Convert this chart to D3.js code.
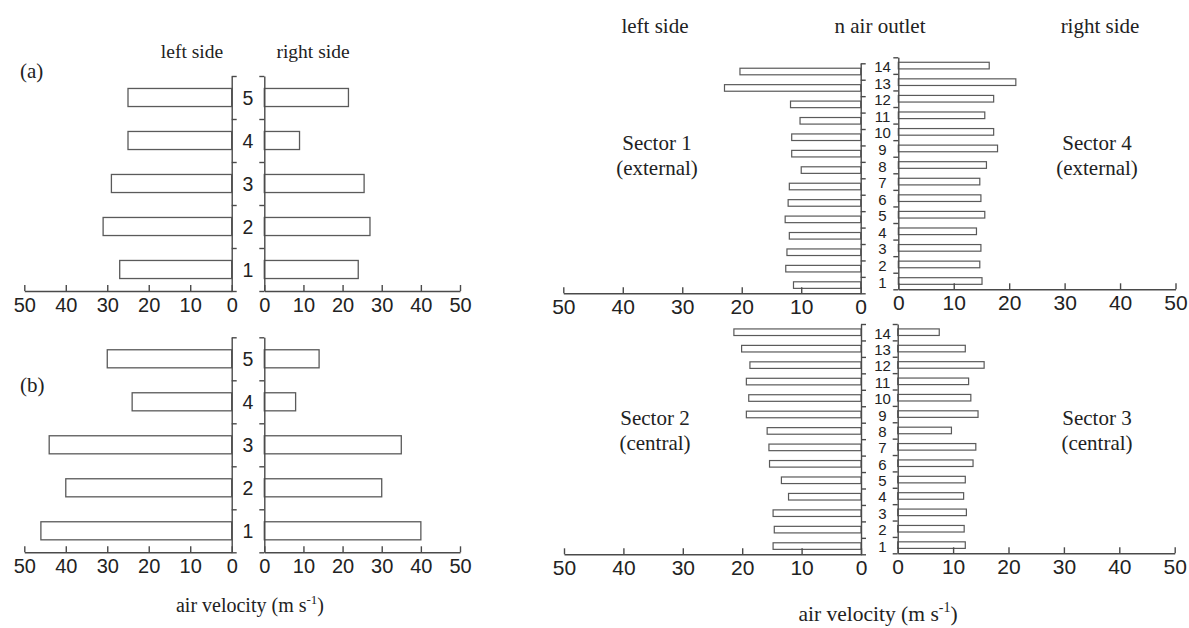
<!DOCTYPE html>
<html>
<head>
<meta charset="utf-8">
<script src="https://cdn.jsdelivr.net/npm/d3@7"></script>
<style>
  html, body { margin: 0; padding: 0; background: #fff; }
  svg { display: block; }
  .num { font-family: "Liberation Sans", Arial, sans-serif; fill: #222; }
  .serif { font-family: "Liberation Serif", "Times New Roman", serif; fill: #222; }
</style>
</head>
<body>
<svg id="chart" width="1189" height="628"></svg>
<script>
// Air outlets on each side of the machine
const outletsFive = [1, 2, 3, 4, 5];
const outletsFourteen = d3.range(1, 15);

// (a) and (b): air velocity per outlet, m/s
const aLeft  = [27, 31, 29, 25, 25];
const aRight = [24, 27, 25.5, 9, 21.5];
const bLeft  = [46, 40, 44, 24, 30];
const bRight = [40, 30, 35, 8, 14];

// Sectors, outlets 1..14, m/s
const sector1 = [11.3, 12.6, 12.4, 12.0, 12.7, 12.2, 12.0, 10.0, 11.6, 11.6, 10.2, 11.8, 22.9, 20.3];
const sector4 = [15.1, 14.7, 14.9, 14.1, 15.6, 14.9, 14.7, 15.9, 17.9, 17.2, 15.6, 17.2, 21.2, 16.4];
const sector2 = [14.8, 14.6, 14.8, 12.2, 13.4, 15.4, 15.5, 15.8, 19.3, 18.9, 19.3, 18.7, 20.1, 21.4];
const sector3 = [12.2, 12.0, 12.4, 11.9, 12.2, 13.6, 14.1, 9.7, 14.5, 13.2, 12.8, 15.6, 12.2, 7.5];

const velocityTicks = [0, 10, 20, 30, 40, 50];

const svg = d3.select("#chart");
const axisColor = "#4a4a4a";
const barStroke = "#5a5a5a";

// One half of a butterfly chart: bars grow away from a vertical axis
function drawHalf(cfg) {
  const g = svg.append("g");
  const x = d3.scaleLinear().domain([0, 50]).range([cfg.x0, cfg.x50]);
  const n = cfg.cats.length;
  const y = d3.scaleBand()
    .domain(cfg.cats)
    .range([cfg.bottom, cfg.top])
    .paddingInner(cfg.pad)
    .paddingOuter(cfg.pad / 2);
  const yEdge = d3.scaleLinear().domain([0, n]).range([cfg.bottom, cfg.top]);

  // bars
  g.selectAll("rect.bar")
    .data(cfg.cats.map((c, i) => ({ c, v: cfg.values[i] })))
    .join("rect")
    .attr("class", "bar")
    .attr("x", d => Math.min(x(0), x(d.v)))
    .attr("width", d => Math.abs(x(d.v) - x(0)))
    .attr("y", d => y(d.c))
    .attr("height", y.bandwidth())
    .attr("fill", "#fff")
    .attr("stroke", barStroke)
    .attr("stroke-width", cfg.barStrokeWidth || 1.3);

  // vertical category axis, ticks pointing into the central gap
  const vAxis = (cfg.side === "left" ? d3.axisRight(yEdge) : d3.axisLeft(yEdge))
    .tickValues(d3.range(0, n + 1))
    .tickFormat("")
    .tickSize(cfg.vTick)
    .tickSizeOuter(0);
  const gv = g.append("g").attr("transform", `translate(${cfg.x0},0)`).call(vAxis);
  gv.selectAll("path, line").attr("stroke", axisColor).attr("stroke-width", 1.4);

  // horizontal velocity axis, ticks pointing up, labels below
  const hAxis = d3.axisBottom(x)
    .tickValues(velocityTicks)
    .tickFormat(d3.format("d"))
    .tickSize(-6)
    .tickSizeOuter(0)
    .tickPadding(cfg.tickPad);
  const gh = g.append("g").attr("transform", `translate(0,${cfg.bottom})`).call(hAxis);
  gh.selectAll("path, line").attr("stroke", axisColor).attr("stroke-width", 1.4);
  gh.selectAll("text")
    .attr("class", "num")
    .style("font-size", cfg.tickFont + "px")
    .attr("fill", "#222");

  return { y, yEdge };
}

// Outlet numbers between the two halves
function drawNumbers(cats, yScale, cx, size, dy) {
  svg.append("g").selectAll("text")
    .data(cats)
    .join("text")
    .attr("class", "num")
    .attr("x", cx)
    .attr("y", d => yScale(d) + yScale.bandwidth() / 2 + dy)
    .attr("text-anchor", "middle")
    .attr("dominant-baseline", "central")
    .style("font-size", size + "px")
    .text(d => d);
}

function serifText(x, y, txt, size, anchor) {
  return svg.append("text")
    .attr("class", "serif")
    .attr("x", x).attr("y", y)
    .attr("text-anchor", anchor || "middle")
    .style("font-size", size + "px")
    .text(txt);
}

function velocityLabel(cx, y, size) {
  const t = svg.append("text")
    .attr("class", "serif")
    .attr("x", cx).attr("y", y)
    .attr("text-anchor", "middle")
    .style("font-size", size + "px");
  t.append("tspan").text("air velocity (m s");
  t.append("tspan").attr("dy", -size * 0.4).style("font-size", (size * 0.65) + "px").text("-1");
  t.append("tspan").attr("dy", size * 0.4).text(")");
}

// ---------- Left figure: (a) and (b) ----------
const leftCommon = { pad: 0.58, vTick: 5, tickPad: 7, tickFont: 20 };

const aL = drawHalf(Object.assign({}, leftCommon, {
  cats: outletsFive, values: aLeft, side: "left",
  x0: 231.7, x50: 24.3, top: 76, bottom: 291
}));
drawHalf(Object.assign({}, leftCommon, {
  cats: outletsFive, values: aRight, side: "right",
  x0: 264.3, x50: 460, top: 76, bottom: 291
}));
drawNumbers(outletsFive, aL.y, 248, 19.5, 0);

const bL = drawHalf(Object.assign({}, leftCommon, {
  cats: outletsFive, values: bLeft, side: "left",
  x0: 231.7, x50: 24.3, top: 337.3, bottom: 552.3
}));
drawHalf(Object.assign({}, leftCommon, {
  cats: outletsFive, values: bRight, side: "right",
  x0: 264.3, x50: 460, top: 337.3, bottom: 552.3
}));
drawNumbers(outletsFive, bL.y, 248, 19.5, 0);

serifText(192, 58, "left side", 19.5);
serifText(313, 58, "right side", 19.5);
serifText(20, 78, "(a)", 21, "start");
serifText(20, 392, "(b)", 21, "start");
velocityLabel(250, 612, 20);

// ---------- Right figure: sectors ----------
const rightCommon = { pad: 0.6, vTick: 5, tickPad: 6, tickFont: 21, barStrokeWidth: 1.2 };

drawHalf(Object.assign({}, rightCommon, {
  cats: outletsFourteen, values: sector1, side: "left",
  x0: 860.7, x50: 563.3, top: 63.3, bottom: 293.3
}));
const s4 = drawHalf(Object.assign({}, rightCommon, {
  cats: outletsFourteen, values: sector4, side: "right",
  x0: 898.3, x50: 1175.5, top: 57.3, bottom: 289.3
}));
drawNumbers(outletsFourteen, s4.y, 882.5, 15, 1);

drawHalf(Object.assign({}, rightCommon, {
  cats: outletsFourteen, values: sector2, side: "left",
  x0: 861, x50: 564, top: 324, bottom: 554.3
}));
const s3 = drawHalf(Object.assign({}, rightCommon, {
  cats: outletsFourteen, values: sector3, side: "right",
  x0: 897.7, x50: 1174.7, top: 324, bottom: 553.3
}));
drawNumbers(outletsFourteen, s3.y, 882.5, 15, 1);

serifText(655, 33, "left side", 21);
serifText(880, 33, "n air outlet", 21);
serifText(1100, 33, "right side", 21);

serifText(657, 150, "Sector 1", 21);
serifText(657, 175, "(external)", 21);
serifText(1097, 150, "Sector 4", 21);
serifText(1097, 175, "(external)", 21);
serifText(655, 425, "Sector 2", 21);
serifText(655, 450, "(central)", 21);
serifText(1097, 425, "Sector 3", 21);
serifText(1097, 450, "(central)", 21);

velocityLabel(878, 621, 21.5);
</script>
</body>
</html>
